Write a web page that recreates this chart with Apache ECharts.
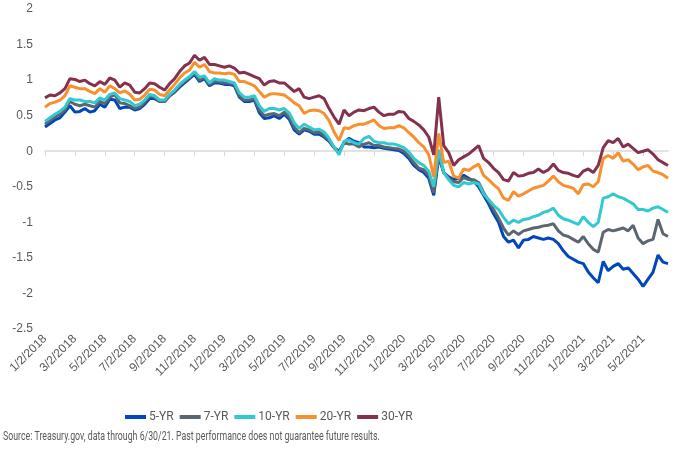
<!DOCTYPE html>
<html>
<head>
<meta charset="utf-8">
<script src="https://cdn.jsdelivr.net/npm/echarts@6/dist/echarts.min.js"></script>
<style>
  html, body { margin: 0; padding: 0; background: #fff; }
  #chart { width: 691px; height: 456px; }
</style>
</head>
<body>
<div id="chart"></div>
<script>
// sample dates: 2nd, 12th, 22nd of every month, Jan 2018 .. Jun 2021
let years = [2018, 2019, 2020, 2021]
let sampleDays = [2, 12, 22]
let categories = []
years.forEach(y => {
    let lastMonth = y == 2021 ? 6 : 12
    for (let m = 1; m <= lastMonth; m++) {
        sampleDays.forEach(d => categories.push(m + "/" + d + "/" + y))
    }
})

let names = ["5-YR", "7-YR", "10-YR", "20-YR", "30-YR"]
let colors = ["#0047BB", "#5B6770", "#33C9D1", "#F7902F", "#84314F"]

let yr5 = [
    0.34,0.39,0.44,0.47,0.55,0.64,0.55,0.56,0.60,0.55,0.57,0.66,
    0.62,0.73,0.72,0.60,0.62,0.62,0.58,0.60,0.66,0.74,0.74,0.70,
    0.70,0.78,0.83,0.90,0.96,1.02,1.08,0.98,1.02,0.92,0.96,0.96,
    0.94,0.94,0.92,0.76,0.70,0.70,0.72,0.54,0.46,0.47,0.50,0.46,
    0.52,0.45,0.30,0.24,0.30,0.28,0.24,0.24,0.20,0.14,0.05,0.00,
    0.12,0.18,0.14,0.12,0.06,0.06,0.05,0.06,0.04,0.03,0.02,0.01,
    -0.03,-0.10,-0.20,-0.26,-0.30,-0.38,-0.62,-0.08,-0.30,-0.36,-0.40,-0.38,
    -0.34,-0.38,-0.42,-0.50,-0.62,-0.74,-0.88,-1.00,-1.20,-1.28,-1.25,-1.36,
    -1.25,-1.24,-1.20,-1.22,-1.24,-1.22,-1.24,-1.30,-1.40,-1.48,-1.52,-1.56,
    -1.58,-1.70,-1.78,-1.85,-1.55,-1.68,-1.62,-1.58,-1.66,-1.64,-1.72,-1.80,
    -1.90,-1.80,-1.70,-1.46,-1.56,-1.58
]
let yr7 = [
    0.38,0.43,0.48,0.52,0.58,0.70,0.66,0.64,0.66,0.64,0.62,0.70,
    0.67,0.76,0.80,0.68,0.67,0.64,0.60,0.62,0.69,0.78,0.76,0.70,
    0.70,0.78,0.84,0.92,0.98,1.04,1.10,1.00,1.04,0.94,0.98,0.98,
    0.96,0.96,0.94,0.78,0.72,0.72,0.74,0.58,0.50,0.52,0.53,0.50,
    0.55,0.48,0.34,0.26,0.32,0.30,0.26,0.27,0.22,0.15,0.05,-0.02,
    0.12,0.10,0.10,0.06,0.10,0.12,0.08,0.08,0.06,0.05,0.04,0.03,
    0.00,-0.07,-0.16,-0.24,-0.26,-0.34,-0.58,-0.04,-0.30,-0.38,-0.43,-0.44,
    -0.37,-0.40,-0.40,-0.44,-0.58,-0.70,-0.82,-0.94,-1.08,-1.18,-1.12,-1.17,
    -1.12,-1.10,-1.08,-1.07,-1.05,-1.04,-1.02,-1.12,-1.18,-1.20,-1.24,-1.28,
    -1.20,-1.30,-1.38,-1.42,-1.14,-1.10,-1.12,-1.10,-1.08,-1.12,-1.04,-1.22,
    -1.30,-1.26,-1.24,-0.96,-1.16,-1.20
]
let yr10 = [
    0.42,0.47,0.52,0.56,0.62,0.74,0.72,0.72,0.70,0.70,0.68,0.75,
    0.72,0.80,0.82,0.74,0.72,0.70,0.64,0.66,0.72,0.80,0.78,0.72,
    0.72,0.80,0.86,0.94,1.00,1.05,1.12,1.04,1.06,0.96,1.02,1.00,
    1.00,0.98,0.96,0.82,0.76,0.76,0.78,0.64,0.56,0.60,0.60,0.58,
    0.60,0.54,0.40,0.32,0.38,0.34,0.30,0.31,0.27,0.18,0.06,-0.05,
    0.14,0.16,0.12,0.10,0.18,0.21,0.14,0.12,0.12,0.10,0.10,0.08,
    0.05,-0.01,-0.10,-0.16,-0.20,-0.28,-0.50,0.02,-0.30,-0.40,-0.48,-0.50,
    -0.44,-0.46,-0.44,-0.46,-0.60,-0.68,-0.76,-0.82,-0.93,-1.02,-0.97,-1.00,
    -0.96,-0.95,-0.92,-0.90,-0.86,-0.84,-0.80,-0.90,-0.95,-0.97,-1.00,-1.03,
    -0.92,-1.00,-1.06,-1.00,-0.66,-0.64,-0.60,-0.64,-0.66,-0.70,-0.74,-0.82,
    -0.82,-0.84,-0.80,-0.78,-0.82,-0.86
]
let yr20 = [
    0.62,0.67,0.69,0.72,0.78,0.92,0.90,0.88,0.88,0.84,0.81,0.88,
    0.83,0.92,0.88,0.82,0.85,0.80,0.72,0.73,0.79,0.87,0.86,0.80,
    0.78,0.86,0.94,1.03,1.10,1.14,1.25,1.18,1.22,1.12,1.10,1.10,
    1.09,1.10,1.08,0.98,0.98,0.95,0.92,0.84,0.76,0.80,0.81,0.80,
    0.79,0.74,0.68,0.64,0.53,0.57,0.58,0.57,0.53,0.43,0.27,0.15,
    0.33,0.32,0.36,0.38,0.38,0.41,0.44,0.36,0.32,0.33,0.33,0.36,
    0.33,0.26,0.20,0.12,0.06,-0.05,-0.36,0.25,-0.16,-0.14,-0.35,-0.38,
    -0.25,-0.27,-0.22,-0.18,-0.34,-0.40,-0.47,-0.53,-0.66,-0.69,-0.57,-0.63,
    -0.60,-0.56,-0.52,-0.50,-0.48,-0.42,-0.35,-0.43,-0.48,-0.50,-0.52,-0.60,
    -0.47,-0.46,-0.50,-0.43,-0.10,-0.06,-0.10,-0.02,-0.14,-0.12,-0.18,-0.26,
    -0.22,-0.20,-0.28,-0.30,-0.33,-0.38
]
let yr30 = [
    0.75,0.79,0.78,0.82,0.88,1.02,1.01,0.98,1.00,0.95,0.92,0.98,
    0.94,1.03,1.00,0.90,0.96,0.93,0.83,0.82,0.88,0.96,0.95,0.90,
    0.86,0.95,1.02,1.12,1.20,1.24,1.35,1.28,1.32,1.22,1.22,1.20,
    1.18,1.20,1.17,1.10,1.11,1.08,1.05,1.02,0.93,0.98,0.99,0.96,
    0.96,0.90,0.84,0.88,0.76,0.74,0.76,0.78,0.74,0.60,0.48,0.38,
    0.58,0.50,0.55,0.58,0.57,0.60,0.62,0.55,0.50,0.52,0.52,0.56,
    0.55,0.46,0.42,0.37,0.30,0.20,-0.05,0.76,0.08,-0.02,-0.20,-0.12,
    -0.08,-0.04,0.02,0.08,-0.10,-0.16,-0.24,-0.30,-0.40,-0.42,-0.30,-0.35,
    -0.34,-0.31,-0.30,-0.25,-0.30,-0.26,-0.18,-0.27,-0.30,-0.31,-0.34,-0.36,
    -0.28,-0.25,-0.30,-0.20,0.05,0.15,0.12,0.18,0.06,0.10,0.04,-0.02,
    0.00,0.02,-0.04,-0.12,-0.16,-0.20
]
let seriesValues = [yr5, yr7, yr10, yr20, yr30]

let sourceNote = "Source: Treasury.gov, data through 6/30/21. Past performance does not guarantee future results."

let axisFont = "'Liberation Sans', Arial, sans-serif"
let noteFont = "Roboto, sans-serif"

let chart = echarts.init(document.getElementById("chart"), null, { renderer: "canvas" })

let option = {
    animation: false,
    backgroundColor: "#fff",
    color: colors,
    grid: { left: 45, right: 23, top: 9, bottom: 127 },
    legend: {
        data: names,
        left: 120,
        top: 406,
        icon: "rect",
        itemWidth: 21,
        itemHeight: 4,
        itemGap: 6,
        textStyle: { color: "#595959", fontSize: 12, fontFamily: noteFont, padding: [0, 0, 0, -2] }
    },
    xAxis: [
        {
            // axis line sitting on zero, ticks only
            type: "category",
            data: categories,
            boundaryGap: false,
            axisLine: { onZero: true, lineStyle: { color: "#d9d9d9", width: 1.5 } },
            axisTick: { show: true, interval: 5, length: 5, lineStyle: { color: "#d9d9d9" } },
            axisLabel: { show: false },
            splitLine: { show: false }
        },
        {
            // labels down at the bottom of the plot
            type: "category",
            data: categories,
            boundaryGap: false,
            position: "bottom",
            axisLine: { show: false, onZero: false },
            axisTick: { show: false },
            axisLabel: {
                interval: 5, rotate: 45, margin: 8,
                color: "#595959", fontSize: 12, fontFamily: axisFont
            },
            splitLine: { show: false }
        }
    ],
    yAxis: {
        type: "value",
        min: -2.5,
        max: 2,
        interval: 0.5,
        axisLine: { show: false },
        axisTick: { show: false },
        splitLine: { show: false },
        axisLabel: { color: "#595959", fontSize: 12, margin: 12, fontFamily: axisFont }
    },
    series: names.map((n, i) => ({
        name: n,
        type: "line",
        xAxisIndex: 0,
        data: seriesValues[i],
        showSymbol: false,
        symbol: "none",
        lineStyle: { width: 3, color: colors[i] },
        itemStyle: { color: colors[i] }
    })),
    graphic: [{
        type: "text",
        x: 3,
        y: 430,
        scaleX: 0.675,
        style: { text: sourceNote, fill: "#595959", fontSize: 13, fontFamily: noteFont }
    }]
}

chart.setOption(option)
</script>
</body>
</html>
